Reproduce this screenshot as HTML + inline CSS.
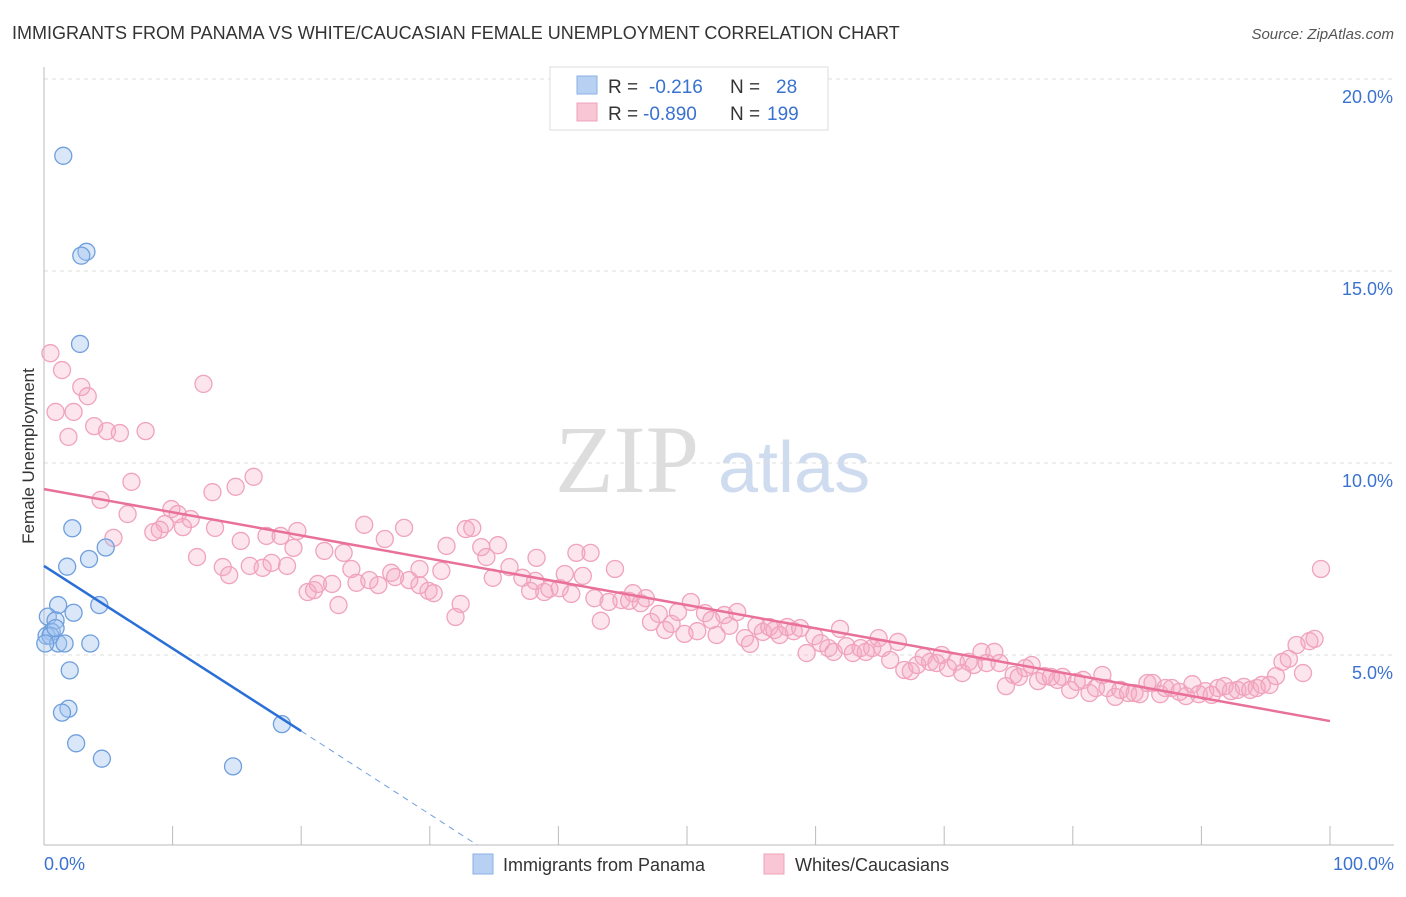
<!DOCTYPE html>
<html><head><meta charset="utf-8"><style>
body{margin:0;background:#fff;font-family:"Liberation Sans",sans-serif;}
svg text{font-family:"Liberation Sans",sans-serif;}
</style></head><body>
<svg id="chart" width="1406" height="892" viewBox="0 0 1406 892" xmlns="http://www.w3.org/2000/svg">
<text x="12" y="39" font-size="18" fill="#333">IMMIGRANTS FROM PANAMA VS WHITE/CAUCASIAN FEMALE UNEMPLOYMENT CORRELATION CHART</text>
<text x="1394" y="39" font-size="15" fill="#555" font-style="italic" text-anchor="end">Source: ZipAtlas.com</text>
<g>
<text x="555" y="492" font-size="96" fill="#ddd" font-family="Liberation Serif, serif" style="font-family:'Liberation Serif',serif">ZIP</text>
<text x="718" y="492" font-size="72" fill="#cfdcf0">atlas</text>
</g>
<g id="grid"></g>
<g id="axes"></g>
<g id="marks"></g>
<g>
<rect x="550" y="67" width="278" height="63" fill="#fff" stroke="#ddd"/>
<rect x="577" y="76" width="20" height="18" fill="#b8d1f3" stroke="#8ab0e6"/>
<rect x="577" y="103" width="20" height="18" fill="#f9c6d5" stroke="#f0a3bb"/>
<text x="608" y="93" font-size="19" fill="#333">R = </text><text x="649" y="93" font-size="19" fill="#3a72d0">-0.216</text>
<text x="730" y="93" font-size="19" fill="#333">N =</text><text x="776" y="93" font-size="19" fill="#3a72d0">28</text>
<text x="608" y="120" font-size="19" fill="#333">R = </text><text x="643" y="120" font-size="19" fill="#3a72d0">-0.890</text>
<text x="730" y="120" font-size="19" fill="#333">N =</text><text x="767" y="120" font-size="19" fill="#3a72d0">199</text>
</g>
<g>
<rect x="473" y="854" width="20" height="20" fill="#b8d1f3" stroke="#8ab0e6"/>
<text x="503" y="871" font-size="18" fill="#333">Immigrants from Panama</text>
<rect x="764" y="854" width="20" height="20" fill="#f9c6d5" stroke="#f0a3bb"/>
<text x="795" y="871" font-size="18" fill="#333">Whites/Caucasians</text>
</g>
<text transform="translate(34,456) rotate(-90)" font-size="17" fill="#333" text-anchor="middle">Female Unemployment</text>
</svg>
<script>
const yTicks=[5,10,15,20];
const yTickLabels=["5.0%","10.0%","15.0%","20.0%"];
const xTickLabels=["0.0%","100.0%"];
const blueX=[1.5,3.3,2.9,2.8,2.2,1.8,3.5,4.8,1.1,4.3,2.3,0.3,0.9,0.6,0.2,0.5,1.1,1.6,3.6,2.0,1.9,1.4,2.5,4.5,14.7,18.5,0.1,0.9];
const blueY=[18.0,15.5,15.4,13.1,8.3,7.3,7.5,7.8,6.3,6.3,6.1,6.0,5.9,5.6,5.5,5.5,5.3,5.3,5.3,4.6,3.6,3.5,2.7,2.3,2.1,3.2,5.3,5.7];
const pinkX=[0.5,1.4,2.9,3.4,0.9,2.3,3.9,1.9,4.9,5.9,7.9,12.4,6.8,4.4,6.5,9.9,10.4,11.4,9.4,8.5,9.0,10.8,13.1,14.9,16.3,13.3,15.3,5.4,11.9,13.9,14.4,16.0,17.0,17.3,18.4,19.7,19.4,17.7,18.9,21.8,23.3,20.5,21.0,21.3,22.4,22.9,24.9,26.5,28.0,23.9,24.3,25.3,26.0,27.0,27.3,28.4,29.2,29.9,30.3,29.2,30.9,31.3,32.4,32.0,32.8,33.3,34.0,34.4,35.3,34.9,36.2,37.2,37.8,38.2,38.3,38.9,39.3,40.1,40.5,41.0,41.4,42.5,41.9,42.8,43.3,43.9,44.4,44.9,45.5,45.8,46.4,46.8,47.2,47.8,48.3,48.8,49.3,49.8,50.3,50.8,51.4,51.9,52.3,52.9,53.3,53.9,54.5,54.9,55.4,55.9,56.4,56.8,57.2,57.8,58.3,58.8,59.3,59.9,60.4,61.0,61.4,61.9,62.4,62.9,63.5,63.9,64.4,64.9,65.2,65.8,66.4,66.9,67.4,67.9,68.4,68.9,69.4,69.8,70.3,70.9,71.4,71.9,72.3,72.9,73.3,73.9,74.3,74.8,75.4,75.8,76.3,76.8,77.3,77.8,78.3,78.8,79.2,79.8,80.3,80.8,81.3,81.8,82.3,82.7,83.3,83.7,84.3,84.8,85.2,85.8,86.2,86.8,87.2,87.7,88.3,88.8,89.3,89.8,90.3,90.8,91.3,91.8,92.3,92.8,93.3,93.8,94.3,94.7,95.3,95.8,96.3,96.8,97.4,97.9,98.4,98.8,99.3];
const pinkY=[12.86,12.42,11.98,11.74,11.33,11.33,10.96,10.68,10.83,10.78,10.83,12.06,9.51,9.04,8.67,8.8,8.67,8.54,8.41,8.2,8.26,8.33,9.24,9.38,9.64,8.31,7.97,8.05,7.55,7.29,7.08,7.32,7.27,8.1,8.1,8.23,7.79,7.4,7.32,7.71,7.66,6.64,6.69,6.85,6.85,6.3,8.39,8.02,8.31,7.24,6.88,6.95,6.82,7.14,7.03,6.95,6.82,6.67,6.61,7.24,7.19,7.84,6.33,5.99,8.28,8.31,7.81,7.55,7.86,7.01,7.29,7.01,6.67,6.93,7.53,6.64,6.72,6.74,7.11,6.59,7.66,7.66,7.06,6.48,5.89,6.38,7.24,6.43,6.41,6.61,6.35,6.48,5.86,6.07,5.65,5.81,6.12,5.55,6.38,5.62,6.09,5.91,5.52,6.04,5.76,6.12,5.44,5.29,5.76,5.6,5.73,5.65,5.52,5.73,5.62,5.7,5.05,5.49,5.31,5.18,5.08,5.68,5.23,5.05,5.18,5.08,5.18,5.44,5.18,4.87,5.34,4.61,4.58,4.74,4.95,4.82,4.79,5.0,4.66,4.82,4.53,4.82,4.74,5.08,4.79,5.08,4.79,4.19,4.48,4.43,4.66,4.74,4.32,4.45,4.43,4.35,4.43,4.09,4.3,4.35,4.01,4.14,4.48,4.14,3.91,4.09,4.01,4.01,3.98,4.27,4.27,3.98,4.14,4.14,4.04,3.93,4.24,3.98,4.06,3.96,4.14,4.19,4.06,4.09,4.17,4.09,4.14,4.22,4.22,4.45,4.82,4.9,5.26,4.53,5.36,5.42,7.24];
const pinkTrend=[[0,9.32],[100,3.28]];
const blueTrend=[[0,7.32],[20,3.02]];
const blueDash=[[20,3.02],[33.7,0.05]];

const NS="http://www.w3.org/2000/svg";
const X=v=>44+v*12.86, Y=v=>847-v*38.4;
function mk(tag,attrs,parent){const e=document.createElementNS(NS,tag);for(const k in attrs)e.setAttribute(k,attrs[k]);parent.appendChild(e);return e;}
const grid=document.getElementById('grid'),axes=document.getElementById('axes'),marks=document.getElementById('marks');
yTicks.forEach((t,i)=>{
 const l=mk('line',{x1:44,x2:1394,y1:Y(t),y2:Y(t),stroke:'#ddd','stroke-dasharray':'4,4'},grid);
 
 
 const tx=mk('text',{x:1393,y:Y(t)+24,'font-size':18,fill:'#3a72d0','text-anchor':'end'},axes);
 tx.textContent=yTickLabels[i];
 
 
});
let a=mk('line',{x1:44,x2:44,y1:67,y2:845,stroke:'#bbb'},axes);


a=mk('line',{x1:44,x2:1394,y1:845,y2:845,stroke:'#bbb'},axes);


for(let k=0;k<=10;k++){const t=mk('line',{x1:X(k*10),x2:X(k*10),y1:826,y2:845,stroke:'#bbb'},axes);
 
 }
[[0,'start',44],[100,'end',1394]].forEach((d,i)=>{const t=mk('text',{x:d[2],y:870,'font-size':18,fill:'#3a72d0','text-anchor':d[1]},axes);t.textContent=xTickLabels[i];
 
 });
pinkX.forEach((v,i)=>{const c=mk('circle',{cx:X(v),cy:Y(pinkY[i]),r:8.5,fill:'rgba(246,170,196,0.3)',stroke:'#f0a3bb','stroke-width':1.3},marks);
 
 });
blueX.forEach((v,i)=>{const c=mk('circle',{cx:X(v),cy:Y(blueY[i]),r:8.5,fill:'rgba(160,195,240,0.4)',stroke:'#6f9fdc','stroke-width':1.3},marks);
 
 });
let ln=mk('line',{x1:X(pinkTrend[0][0]),y1:Y(pinkTrend[0][1]),x2:X(pinkTrend[1][0]),y2:Y(pinkTrend[1][1]),stroke:'#e8709a','stroke-width':2.5},marks);


ln=mk('line',{x1:X(blueTrend[0][0]),y1:Y(blueTrend[0][1]),x2:X(blueTrend[1][0]),y2:Y(blueTrend[1][1]),stroke:'#2a6fd6','stroke-width':2.5},marks);


ln=mk('line',{x1:X(blueDash[0][0]),y1:Y(blueDash[0][1]),x2:X(blueDash[1][0]),y2:Y(blueDash[1][1]),stroke:'#6f9fdc','stroke-width':1,'stroke-dasharray':'6,5'},marks);


</script>
</body></html>
